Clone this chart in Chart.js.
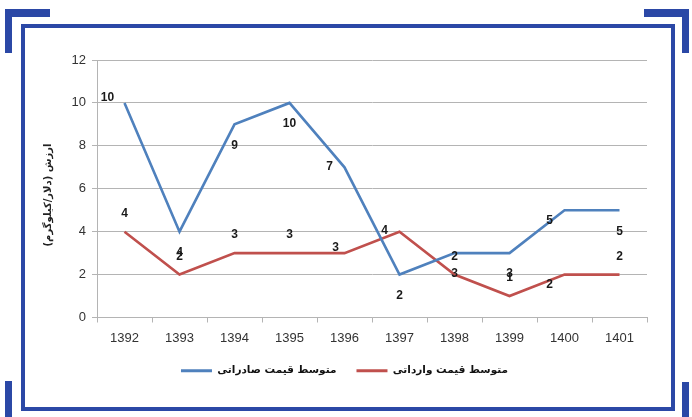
<!DOCTYPE html>
<html lang="fa">
<head>
<meta charset="utf-8">
<script src="https://cdn.jsdelivr.net/npm/chart.js@4.4.1/dist/chart.umd.min.js"></script>
<style>
  html, body { margin: 0; padding: 0; background: #ffffff; }
  #wrap { position: relative; width: 692px; height: 417px; overflow: hidden; background: #ffffff; }
  #chart { position: absolute; left: 0; top: 0; }
  .bar { position: absolute; background: #2b48a6; }
  #frame { position: absolute; left: 21px; top: 24px; width: 646px; height: 379px; border: 4px solid #2b48a6; }
</style>
</head>
<body>
<div id="wrap">
  <canvas id="chart" width="692" height="417"></canvas>
  <div id="frame"></div>
  <!-- corner brackets -->
  <div class="bar" style="left:5px;top:9px;width:45px;height:8px"></div>
  <div class="bar" style="left:5px;top:9px;width:7px;height:44px"></div>
  <div class="bar" style="left:644px;top:9px;width:45px;height:8px"></div>
  <div class="bar" style="left:682px;top:9px;width:7px;height:44px"></div>
  <div class="bar" style="left:5px;top:381px;width:7px;height:36px"></div>
  <div class="bar" style="left:682px;top:382px;width:7px;height:35px"></div>
</div>
<script>
// Years (Solar Hijri) and average prices, USD per kilogram
const years = ['1392', '1393', '1394', '1395', '1396', '1397', '1398', '1399', '1400', '1401'];
const exportPrice = [10, 4, 9, 10, 7, 2, 3, 3, 5, 5];
const importPrice = [4, 2, 3, 3, 3, 4, 2, 1, 2, 2];
const exportName = 'متوسط قیمت صادراتی';
const importName = 'متوسط قیمت وارداتی';
const yAxisTitle = 'ارزش (دلار/کیلوگرم)';
const yMin = 0, yMax = 12, yStep = 2;

// Where each value label sits relative to its point
const exportLabelSpots = ['leftHigh', 'below', 'below', 'below', 'left', 'below', 'below', 'below', 'lowLeft', 'below'];
const importLabelSpots = ['above', 'above', 'above', 'above', 'nearLeft', 'left', 'above', 'above', 'lowLeft', 'above'];
const spotOffsets = {
  above: [0, -18],
  below: [0, 21],
  left: [-15, -1],
  leftHigh: [-17, -5],
  nearLeft: [-9, -5],
  lowLeft: [-15, 10]
};

const BLUE = '#4f81bd';
const RED = '#c0504d';
const GRID = '#b4b4b4';
const TEXT = '#333333';

const valueLabels = {
  id: 'valueLabels',
  afterDatasetsDraw(chart) {
    const ctx = chart.ctx;
    const spots = [exportLabelSpots, importLabelSpots];
    ctx.save();
    ctx.font = 'bold 12px "Liberation Sans", Arial, sans-serif';
    ctx.fillStyle = '#1a1a1a';
    ctx.textAlign = 'center';
    ctx.textBaseline = 'middle';
    chart.data.datasets.forEach((ds, di) => {
      const meta = chart.getDatasetMeta(di);
      meta.data.forEach((pt, i) => {
        const off = spotOffsets[spots[di][i]];
        ctx.fillText(String(ds.data[i]), pt.x + off[0], pt.y + off[1]);
      });
    });
    ctx.restore();
  }
};

const yTitle = {
  id: 'yTitle',
  afterDraw(chart) {
    const ctx = chart.ctx;
    ctx.save();
    ctx.translate(48, 195);
    ctx.rotate(-Math.PI / 2);
    ctx.direction = 'rtl';
    ctx.font = 'bold 10px "DejaVu Sans", sans-serif';
    ctx.fillStyle = '#222222';
    ctx.textAlign = 'center';
    ctx.textBaseline = 'middle';
    ctx.fillText(yAxisTitle, 0, 0);
    ctx.restore();
  }
};

new Chart(document.getElementById('chart'), {
  type: 'line',
  data: {
    labels: years,
    datasets: [
      { label: exportName, data: exportPrice, borderColor: BLUE, backgroundColor: BLUE, borderWidth: 2.6, pointRadius: 0, tension: 0 },
      { label: importName, data: importPrice, borderColor: RED, backgroundColor: RED, borderWidth: 2.6, pointRadius: 0, tension: 0 }
    ]
  },
  options: {
    responsive: false,
    animation: false,
    layout: { padding: { left: 42, right: 45, top: 60, bottom: 31 } },
    plugins: {
      tooltip: { enabled: false },
      title: { display: false },
      legend: {
        position: 'bottom',
        labels: {
          boxWidth: 31,
          boxHeight: 3,
          padding: 20,
          color: '#111111',
          font: { family: '"DejaVu Sans", sans-serif', size: 10.5, weight: 'bold' },
          generateLabels(chart) {
            return Chart.defaults.plugins.legend.labels.generateLabels(chart).map(l => Object.assign(l, { lineWidth: 0 }));
          }
        }
      }
    },
    scales: {
      x: {
        offset: true,
        grid: { offset: true, drawOnChartArea: false, drawTicks: true, tickLength: 5, color: GRID },
        border: { display: true, color: GRID, width: 1 },
        ticks: { color: TEXT, padding: 8, maxRotation: 0, font: { family: '"Liberation Sans", Arial, sans-serif', size: 13 } },
        afterFit(s) { s.height = 28; }
      },
      y: {
        min: yMin,
        max: yMax,
        grid: { color: GRID, drawTicks: true, tickLength: 5, lineWidth: 1 },
        border: { display: true, color: GRID, width: 1 },
        ticks: { stepSize: yStep, color: TEXT, padding: 6, font: { family: '"Liberation Sans", Arial, sans-serif', size: 13 } },
        afterFit(s) { s.width = 55; }
      }
    }
  },
  plugins: [valueLabels, yTitle]
});
</script>
</body>
</html>
